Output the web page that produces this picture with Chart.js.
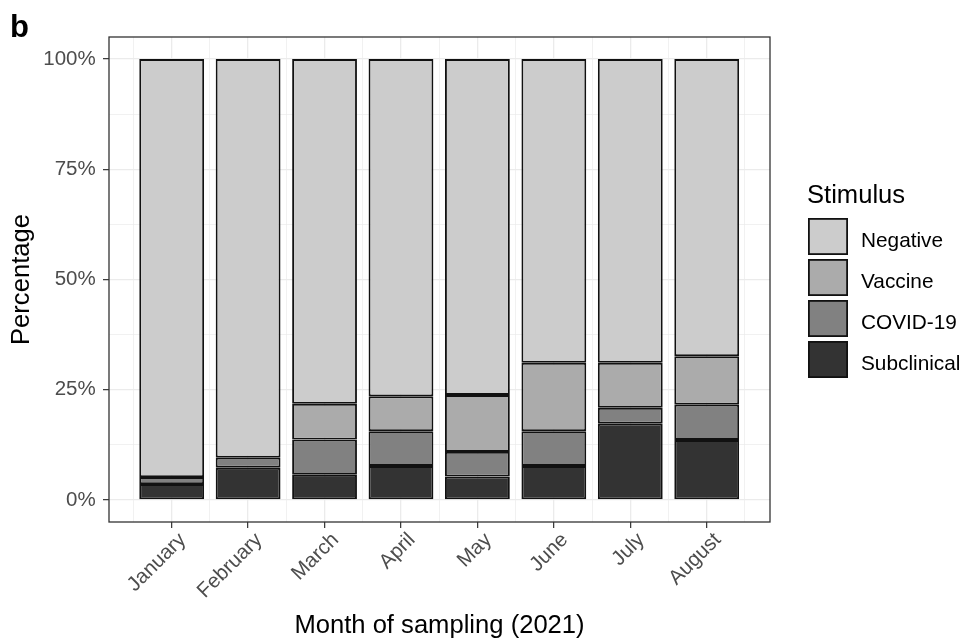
<!DOCTYPE html>
<html><head><meta charset="utf-8">
<script src="https://cdn.jsdelivr.net/npm/chart.js@4.4.1/dist/chart.umd.min.js"></script>
<style>html,body{margin:0;padding:0;background:#fff;}canvas{display:block;}</style>
</head><body>
<canvas id="c" width="968" height="643"></canvas>
<script>
const months = ['January','February','March','April','May','June','July','August'];
const subclinical = [3.6, 7.3, 5.7, 7.7, 5.3, 7.7, 17.3, 13.6];
const covid19     = [1.6, 2.3, 8.0, 7.9, 5.6, 7.9, 3.6, 8.0];
const vaccine     = [0, 0, 8.1, 7.9, 12.9, 15.5, 10.2, 11.0];
const negative    = [94.8, 90.4, 78.2, 76.5, 76.2, 68.9, 68.9, 67.4];
const seriesNames  = ['Subclinical','COVID-19','Vaccine','Negative'];
const seriesColors = ['#333333','#818181','#ABABAB','#CCCCCC'];
const yMajorTicks = [0, 25, 50, 75, 100];
const yMinorTicks = [12.5, 37.5, 62.5, 87.5];
const xMinorTicks = [-0.5, 0.5, 1.5, 2.5, 3.5, 4.5, 5.5, 6.5, 7.5];
const legendTitle = 'Stimulus';
const panelLabel = 'b';

const FONT = '"Liberation Sans", Arial, sans-serif';
const series = [subclinical, covid19, vaccine, negative];
// grid ticks sit every half category, so the sampled gap is half a category
const datasets = series.map((arr, k) => ({
  label: seriesNames[k],
  data: arr.map((v, i) => ({x: i, y: v})),
  backgroundColor: seriesColors[k],
  borderColor: '#111111',
  borderWidth: 1.9,
  borderSkipped: false,
  barPercentage: 0.848,
  categoryPercentage: 2
}));

const isInt = v => Math.abs(v - Math.round(v)) < 1e-6;

const decor = {
  id: 'decor',
  afterDraw(chart) {
    const {ctx, chartArea: a} = chart;
    ctx.save();
    ctx.strokeStyle = '#333333';
    ctx.lineWidth = 1.3;
    ctx.strokeRect(a.left, a.top, a.right - a.left, a.bottom - a.top);
    ctx.fillStyle = '#000';
    ctx.textAlign = 'left';
    ctx.textBaseline = 'alphabetic';
    ctx.font = 'bold 31px ' + FONT;
    ctx.fillText(panelLabel, 10, 37);
    ctx.font = '25.6px ' + FONT;
    ctx.fillText(legendTitle, 807, 203);
    const ds = chart.data.datasets.slice().reverse();
    ds.forEach((d, k) => {
      const top = 218 + k * 41;
      ctx.fillStyle = d.backgroundColor;
      ctx.fillRect(808, top, 40, 37);
      ctx.strokeStyle = '#111111';
      ctx.lineWidth = 1.8;
      ctx.strokeRect(808.9, top + 0.9, 38.2, 35.2);
      ctx.fillStyle = '#000';
      ctx.font = '20.8px ' + FONT;
      ctx.fillText(d.label, 861, top + 29);
    });
    ctx.restore();
  }
};

new Chart(document.getElementById('c'), {
  type: 'bar',
  data: {datasets},
  plugins: [decor],
  options: {
    responsive: false,
    animation: false,
    events: [],
    layout: {padding: {left: 0, right: 198, top: 37, bottom: 0}},
    plugins: {legend: {display: false}, tooltip: {enabled: false}},
    scales: {
      x: {
        type: 'linear',
        stacked: true,
        offset: false,
        bounds: 'data',
        min: -0.82,
        max: 7.828,
        afterBuildTicks: s => {
          s.ticks = months.map((m, i) => i).concat(xMinorTicks).sort((p, q) => p - q).map(v => ({value: v}));
        },
        afterFit: s => { s.height = 121; },
        border: {display: false},
        grid: {
          offset: false,
          color: '#EBEBEB',
          lineWidth: c => (c.tick && isInt(c.tick.value)) ? 1.3 : 0.7,
          tickColor: c => (c.tick && isInt(c.tick.value)) ? '#333333' : 'rgba(0,0,0,0)',
          tickWidth: 1.2,
          tickLength: 6
        },
        ticks: {
          autoSkip: false,
          minRotation: 45,
          maxRotation: 45,
          padding: 0,
          labelOffset: 11,
          color: '#4D4D4D',
          font: {family: FONT, size: 20.5},
          callback: v => isInt(v) ? months[Math.round(v)] : ''
        },
        title: {
          display: true,
          text: 'Month of sampling (2021)',
          color: '#000',
          font: {family: FONT, size: 25.6},
          padding: {top: 0, bottom: 1.5}
        }
      },
      y: {
        stacked: true,
        bounds: 'data',
        min: -5,
        max: 105,
        afterBuildTicks: s => {
          s.ticks = yMajorTicks.concat(yMinorTicks).sort((p, q) => p - q).map(v => ({value: v}));
        },
        afterFit: s => { s.width = 109; },
        border: {display: false},
        grid: {
          color: '#EBEBEB',
          lineWidth: c => (c.tick && yMajorTicks.includes(c.tick.value)) ? 1.3 : 0.7,
          tickColor: c => (c.tick && yMajorTicks.includes(c.tick.value)) ? '#333333' : 'rgba(0,0,0,0)',
          tickWidth: 1.2,
          tickLength: 6
        },
        ticks: {
          padding: 7.3,
          color: '#4D4D4D',
          font: {family: FONT, size: 20.5},
          callback: v => yMajorTicks.includes(v) ? v + '%' : ''
        },
        title: {
          display: true,
          text: 'Percentage',
          color: '#000',
          font: {family: FONT, size: 25.6},
          padding: {top: 7, bottom: 0}
        }
      }
    }
  }
});
</script>
</body></html>
